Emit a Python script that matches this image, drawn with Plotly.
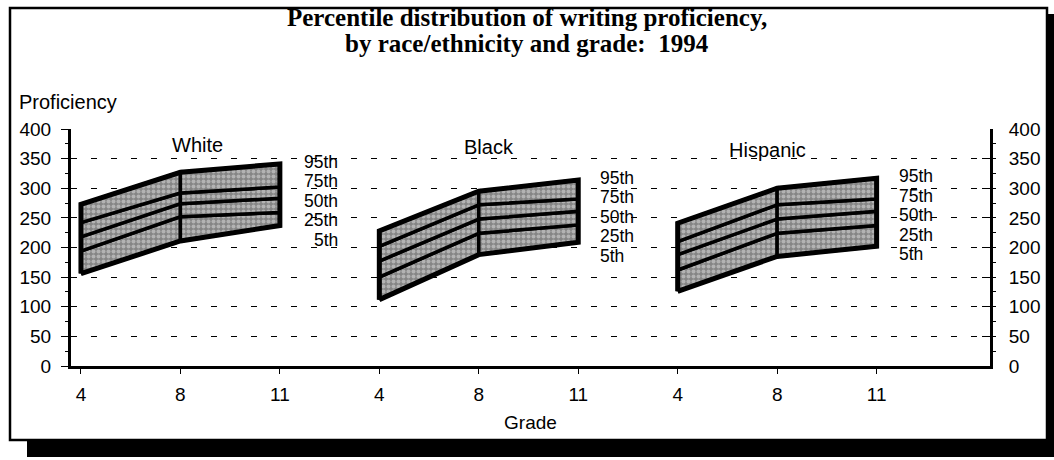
import plotly.graph_objects as go

# ---------------- data ----------------
grades = ["4", "8", "11"]
groups = ["White", "Black", "Hispanic"]
percentiles = ["5th", "25th", "50th", "75th", "95th"]

# proficiency by percentile (5th, 25th, 50th, 75th, 95th); each list = grades 4, 8, 11
white = [[156, 211, 237], [194, 252, 259], [218, 274, 283], [242, 292, 302], [273, 327, 341]]
black = [[112, 188, 209], [150, 224, 238], [177, 248, 261], [202, 272, 282], [228, 295, 314]]
hispanic = [[126, 185, 202], [162, 224, 237], [188, 248, 261], [210, 272, 282], [241, 300, 317]]
group_values = [white, black, hispanic]

y_ticks = [0, 50, 100, 150, 200, 250, 300, 350, 400]

title_lines = ["Percentile distribution of writing proficiency,",
               "by race/ethnicity and grade:  1994"]

# ---------------- styling ----------------
FONT = "Liberation Sans, Arial, sans-serif"
SERIF = "Liberation Serif, Times New Roman, serif"
W, H = 1054, 460
ML, MR, MT, MB = 71, 64, 129, 94
n = len(grades)

fig = go.Figure()

def pos(g, i):
    return g * n + i

pattern = dict(shape=".", bgcolor="#858585", fgcolor="#e2e2e2", size=5, solidity=0.5)

for g, vals in enumerate(group_values):
    # bands between consecutive percentiles, split at each grade
    for b in range(len(percentiles) - 1):
        lo, hi = vals[b], vals[b + 1]
        for s in range(n - 1):
            xs = [pos(g, s), pos(g, s + 1), pos(g, s + 1), pos(g, s), pos(g, s)]
            ys = [lo[s], lo[s + 1], hi[s + 1], hi[s], lo[s]]
            fig.add_trace(go.Scatter(
                x=xs, y=ys, mode="lines", fill="toself",
                fillpattern=pattern,
                line=dict(color="black", width=3.5),
                hoverinfo="skip", showlegend=False))
    # thick outer outline
    low, top = vals[0], vals[-1]
    xs = [pos(g, i) for i in range(n)] + [pos(g, i) for i in reversed(range(n))] + [pos(g, 0)]
    ys = low + top[::-1] + [low[0]]
    fig.add_trace(go.Scatter(x=xs, y=ys, mode="lines",
                             line=dict(color="black", width=5),
                             hoverinfo="skip", showlegend=False))

# invisible trace to activate right axis
fig.add_trace(go.Scatter(x=[0], y=[0], yaxis="y2", mode="markers",
                         marker=dict(opacity=0), hoverinfo="skip", showlegend=False))

annotations = []
# title lines
for k, line in enumerate(title_lines):
    annotations.append(dict(xref="paper", yref="paper", x=0.5 + (527 - (ML + (W - ML - MR) / 2)) / (W - ML - MR),
                            y=1, yshift=(MT - 17) - 26 * k, xanchor="center", yanchor="middle",
                            text="<b>%s</b>" % line, showarrow=False, borderpad=0,
                            font=dict(family=SERIF, size=25, color="black")))

# group titles
title_rel_x = [1.17, 1.10, 0.90]
title_y = [373, 370, 365]
for g, name in enumerate(groups):
    annotations.append(dict(x=g * n + title_rel_x[g], y=title_y[g], text=name, showarrow=False,
                            font=dict(family=FONT, size=20, color="black")))

# percentile labels
for g, vals in enumerate(group_values):
    top11 = vals[-1][-1]
    for k, lab in enumerate(reversed(percentiles)):
        if g == 0:
            ax, anc = g * n + 2.59, "right"
        else:
            ax, anc = g * n + 2.21, "left"
        annotations.append(dict(x=ax, y=top11, yshift=2 - 19.5 * k, text=lab,
                                xanchor=anc, showarrow=False, borderpad=0,
                                font=dict(family=FONT, size=17.5, color="black")))

# y axis caption
annotations.append(dict(xref="paper", yref="paper", x=0, y=1, xshift=-54, yshift=27,
                        xanchor="left", yanchor="middle", text="Proficiency", showarrow=False,
                        font=dict(family=FONT, size=20, color="black")))

# frame with drop shadow (pixel coords)
def px(X):
    return (X - ML) / (W - ML - MR)

def py(Y):
    return (H - MB - Y) / (H - MT - MB)

shapes = [
    dict(type="rect", xref="paper", yref="paper", x0=px(10), x1=px(1047), y0=py(440), y1=py(8),
         line=dict(color="black", width=2.5), layer="below"),
    dict(type="rect", xref="paper", yref="paper", x0=px(27), x1=px(1054), y0=py(457), y1=py(440),
         fillcolor="black", line=dict(width=0)),
    dict(type="rect", xref="paper", yref="paper", x0=px(1046), x1=px(1054), y0=py(457), y1=py(14),
         fillcolor="black", line=dict(width=0)),
]

fig.update_layout(
    width=W, height=H,
    margin=dict(l=ML, r=MR, t=MT, b=MB, autoexpand=False),
    paper_bgcolor="white", plot_bgcolor="white",
    xaxis=dict(range=[-0.1, 9.14], tickmode="array",
               tickvals=[pos(g, i) for g in range(len(groups)) for i in range(n)],
               ticktext=grades * len(groups),
               showline=True, linewidth=3, linecolor="black",
               ticks="outside", ticklen=5, tickwidth=1.2, tickcolor="black",
               showgrid=False, zeroline=False, ticklabelstandoff=4,
               tickfont=dict(family=FONT, size=19, color="black"),
               title=dict(text="Grade", standoff=12, font=dict(family=FONT, size=19, color="black"))),
    yaxis=dict(range=[0, 400], tickvals=y_ticks, showline=True, linewidth=3, linecolor="black",
               ticks="outside", ticklen=7, tickwidth=1.2, tickcolor="black",
               showgrid=True, gridcolor="black", gridwidth=1.3, griddash="6px,14px",
               zeroline=False, ticklabelstandoff=6,
               minor=dict(ticks="outside", ticklen=3, dtick=25, tickcolor="black", showgrid=False),
               tickfont=dict(family=FONT, size=19, color="black")),
    yaxis2=dict(range=[0, 400], tickvals=y_ticks, overlaying="y", side="right",
                showline=True, linewidth=3, linecolor="black",
                ticks="inside", ticklen=8, tickwidth=1.2, tickcolor="black",
                showgrid=False, zeroline=False, ticklabelstandoff=12,
                minor=dict(ticks="outside", ticklen=3, dtick=25, tickcolor="black", showgrid=False),
                tickfont=dict(family=FONT, size=19, color="black")),
    annotations=annotations,
    shapes=shapes,
    showlegend=False,
)

fig.write_html("out.html", config={"displayModeBar": False},
               post_script="document.body.style.margin='0';document.body.style.overflow='hidden';")
